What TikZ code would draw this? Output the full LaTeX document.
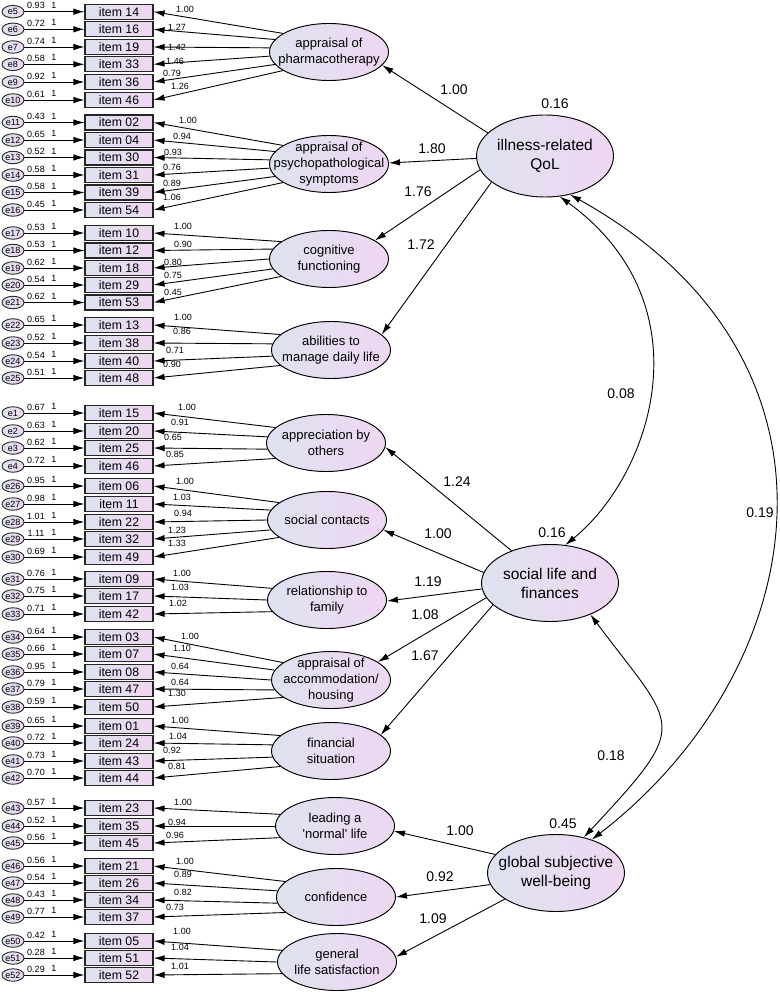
\documentclass[tikz,border=0pt]{standalone}
\usepackage{fontspec}
\setmainfont{Liberation Sans}
\usetikzlibrary{arrows.meta,shapes.geometric}
\definecolor{cL}{RGB}{222,226,240}
\definecolor{cR}{RGB}{239,215,241}
\tikzset{
 arr/.style={-{Latex[length=11pt,width=6.5pt]}, line width=0.9pt},
 darr/.style={{Latex[length=11pt,width=6.5pt]}-{Latex[length=11pt,width=6.5pt]}, line width=0.9pt},
 itembox/.style={draw=black!85, line width=1.1pt, left color=cL, right color=cR, minimum width=68pt, minimum height=15pt, inner sep=0pt, font=\fontsize{12.3}{13}\selectfont},
 errell/.style={ellipse, draw=black!85, line width=0.9pt, left color=cL, right color=cR, minimum width=22pt, minimum height=12.5pt, inner sep=0pt, font=\fontsize{9}{9}\selectfont},
 fac/.style={ellipse, draw, line width=0.95pt, left color=cL, right color=cR, minimum width=119pt, minimum height=57pt, inner sep=0pt},
 factxt/.style={align=center, inner sep=0pt, font=\fontsize{13}{16}\selectfont},
 sec/.style={ellipse, draw, line width=0.95pt, left color=cL, right color=cR, minimum width=137pt, inner sep=0pt},
 sectxt/.style={align=center, inner sep=0pt, font=\fontsize{15.5}{19}\selectfont},
 sm/.style={inner sep=0pt, font=\fontsize{9}{9}\selectfont},
 big/.style={inner sep=0pt, font=\fontsize{14}{16}\selectfont},
}
\newcommand{\itemrow}[8]{%
 \node[errell] (e#1) at (13,#2) {e#1};
 \node[itembox] (i#1) at (119,#2) {item #3};
 \node[sm] (v#1) at (36,#2-6) {#4};
 \node[sm] (u#1) at (54,#2-6.5) {1};
 \draw[arr] (e#1) -- (i#1);
 \draw[arr] (#8) -- (i#1.east);
 \node[sm] (w#1) at (#6,#7) {#5};
}
\begin{document}
\begin{tikzpicture}[x=1pt,y=-1pt]
\useasboundingbox (0,0) rectangle (779,992);
% first-order factors
\node[fac] (ph) at (329,52) {}; \node[factxt] (pht) at (ph) {appraisal of\\pharmacotherapy};
\node[fac] (ps) at (329,164) {}; \node[factxt] (pst) at (ps) {appraisal of\\psychopathological\\symptoms};
\node[fac] (cf) at (329,259) {}; \node[factxt] (cft) at (cf) {cognitive\\functioning};
\node[fac] (ab) at (331,350) {}; \node[factxt] (abt) at (ab) {abilities to\\manage daily life};
\node[fac] (ap) at (326,443) {}; \node[factxt] (apt) at (ap) {appreciation by\\others};
\node[fac] (sc) at (327,520) {}; \node[factxt] (sct) at (sc) {social contacts};
\node[fac] (rf) at (327,600) {}; \node[factxt] (rft) at (rf) {relationship to\\family};
\node[fac] (ah) at (331,680) {}; \node[factxt] (aht) at (ah) {appraisal of\\accommodation/\\housing};
\node[fac] (fs) at (331,751) {}; \node[factxt] (fst) at (fs) {financial\\situation};
\node[fac] (ln) at (335,826) {}; \node[factxt] (lnt) at (ln) {leading a\\\textquotesingle normal\textquotesingle\ life};
\node[fac] (cd) at (336,897) {}; \node[factxt] (cdt) at (cd) {confidence};
\node[fac] (gl) at (337,962) {}; \node[factxt] (glt) at (gl) {general\\life satisfaction};
% second-order factors
\node[sec, minimum height=82pt] (ill) at (545,156) {}; \node[sectxt] (illt) at (ill) {illness-related\\QoL};
\node[sec, minimum height=77pt] (soc) at (550,583) {}; \node[sectxt] (soct) at (soc) {social life and\\finances};
\node[sec, minimum height=77pt] (glob) at (556,873) {}; \node[sectxt] (globt) at (glob) {global subjective\\well-being};
\node[big] (vill) at (555,104) {0.16};
\node[big] (vsoc) at (552,533) {0.16};
\node[big] (vglob) at (563,824) {0.45};
% structural paths
\draw[arr] (ill.158) -- (ph.-14);
\draw[arr] (ill.182) -- (ps.1);
\draw[arr] (ill.192) -- (cf.22);
\draw[arr] (ill.206) -- (ab.17);
\draw[arr] (soc.140) -- (ap.-4);
\draw[arr] (soc.171) -- (sc.-10);
\draw[arr] (soc.185) -- (rf.-1);
\draw[arr] (soc.193) -- (ah.21);
\draw[arr] (soc.201) -- (fs.18);
\draw[arr] (glob.163) -- (ln.-5);
\draw[arr] (glob.190) -- (cd.0);
\draw[arr] (glob.207) -- (gl.5);
\node[big] (s1) at (454,90) {1.00};
\node[big] (s2) at (432,149) {1.80};
\node[big] (s3) at (418,192) {1.76};
\node[big] (s4) at (421,245) {1.72};
\node[big] (s5) at (457,482) {1.24};
\node[big] (s6) at (438,534) {1.00};
\node[big] (s7) at (428,582) {1.19};
\node[big] (s8) at (425,615) {1.08};
\node[big] (s9) at (425,656) {1.67};
\node[big] (s10) at (460,831) {1.00};
\node[big] (s11) at (440,877) {0.92};
\node[big] (s12) at (433,919) {1.09};
% covariances
\draw[darr] (ill.-70) .. controls +(148,108) and +(87,-71) .. (soc.68);
\draw[darr] (ill.-57) .. controls +(297,165) and +(220,-170) .. (glob.43);
\draw[darr] (soc.-38) .. controls +(87,116) and +(108,-116) .. (glob.52);
\node[big] (c1) at (621,394) {0.08};
\node[big] (c2) at (760,513) {0.19};
\node[big] (c3) at (611,756) {0.18};
% items
\itemrow{5}{11.7}{14}{0.93}{1.00}{185}{9}{ph.158}
\itemrow{6}{29.3}{16}{0.72}{1.27}{177}{27}{ph.167}
\itemrow{7}{47}{19}{0.74}{1.42}{177}{47}{ph.176}
\itemrow{8}{64.3}{33}{0.58}{1.46}{175}{61}{ph.184}
\itemrow{9}{82}{36}{0.92}{0.79}{172}{73}{ph.193}
\itemrow{10}{100}{46}{0.61}{1.26}{180}{86}{ph.202}
\itemrow{11}{122.5}{02}{0.43}{1.00}{188}{120}{ps.158}
\itemrow{12}{140}{04}{0.65}{0.94}{182}{136}{ps.167}
\itemrow{13}{157.5}{30}{0.52}{0.93}{173}{152}{ps.176}
\itemrow{14}{175}{31}{0.58}{0.76}{172}{167}{ps.184}
\itemrow{15}{192.5}{39}{0.58}{0.89}{172}{183}{ps.193}
\itemrow{16}{210}{54}{0.45}{1.06}{172}{197}{ps.202}
\itemrow{17}{233}{10}{0.53}{1.00}{183}{226}{cf.160}
\itemrow{18}{250.5}{12}{0.53}{0.90}{183}{244}{cf.170}
\itemrow{19}{268}{18}{0.62}{0.80}{173}{262}{cf.180}
\itemrow{20}{285}{29}{0.54}{0.75}{173}{275}{cf.190}
\itemrow{21}{302.5}{53}{0.62}{0.45}{173}{292}{cf.200}
\itemrow{22}{325}{13}{0.65}{1.00}{183}{317}{ab.163}
\itemrow{23}{343}{38}{0.52}{0.86}{182}{331}{ab.174}
\itemrow{24}{361}{40}{0.54}{0.71}{175}{350}{ab.186}
\itemrow{25}{378}{48}{0.51}{0.90}{172}{364}{ab.197}
\itemrow{1}{413}{15}{0.67}{1.00}{187}{407}{ap.163}
\itemrow{2}{431}{20}{0.63}{0.91}{180}{422}{ap.174}
\itemrow{3}{448}{25}{0.62}{0.65}{173}{437}{ap.186}
\itemrow{4}{466}{46}{0.72}{0.85}{175}{454}{ap.197}
\itemrow{26}{486}{06}{0.95}{1.00}{185}{481}{sc.160}
\itemrow{27}{504}{11}{0.98}{1.03}{182}{497}{sc.170}
\itemrow{28}{522}{22}{1.01}{0.94}{183}{513}{sc.180}
\itemrow{29}{539}{32}{1.11}{1.23}{177}{530}{sc.190}
\itemrow{30}{557}{49}{0.69}{1.33}{177}{543}{sc.200}
\itemrow{31}{579}{09}{0.76}{1.00}{182}{573}{rf.168}
\itemrow{32}{596}{17}{0.75}{1.03}{180}{587}{rf.180}
\itemrow{33}{614}{42}{0.71}{1.02}{178}{603}{rf.192}
\itemrow{34}{637}{03}{0.64}{1.00}{190}{636}{ah.160}
\itemrow{35}{654}{07}{0.66}{1.10}{182}{648}{ah.170}
\itemrow{36}{672}{08}{0.95}{0.64}{180}{666}{ah.180}
\itemrow{37}{689}{47}{0.79}{0.64}{180}{682}{ah.190}
\itemrow{38}{707}{50}{0.59}{1.30}{177}{693}{ah.200}
\itemrow{39}{726}{01}{0.65}{1.00}{180}{720}{fs.163}
\itemrow{40}{743}{24}{0.72}{1.04}{178}{736}{fs.174}
\itemrow{41}{761}{43}{0.73}{0.92}{172}{750}{fs.186}
\itemrow{42}{778}{44}{0.70}{0.81}{177}{766}{fs.197}
\itemrow{43}{808}{23}{0.57}{1.00}{183}{802}{ln.168}
\itemrow{44}{826}{35}{0.52}{0.94}{177}{822}{ln.180}
\itemrow{45}{843}{45}{0.56}{0.96}{175}{835}{ln.192}
\itemrow{46}{866}{21}{0.56}{1.00}{185}{861}{cd.163}
\itemrow{47}{883}{26}{0.54}{0.89}{183}{874}{cd.174}
\itemrow{48}{900}{34}{0.43}{0.82}{183}{892}{cd.186}
\itemrow{49}{917}{37}{0.77}{0.73}{175}{907}{cd.197}
\itemrow{50}{941}{05}{0.42}{1.00}{182}{931}{gl.168}
\itemrow{51}{958}{51}{0.28}{1.04}{180}{947}{gl.180}
\itemrow{52}{975}{52}{0.29}{1.01}{180}{966}{gl.192}
\end{tikzpicture}
\end{document}
